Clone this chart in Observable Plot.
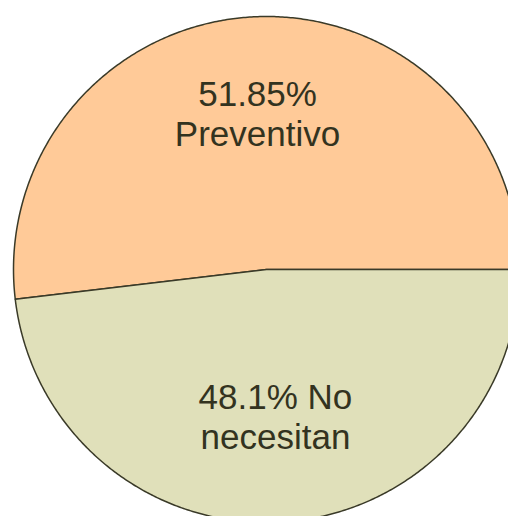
<!DOCTYPE html>
<html>
<head>
<meta charset="utf-8">
<script src="https://cdn.jsdelivr.net/npm/d3@7"></script>
<script src="https://cdn.jsdelivr.net/npm/@observablehq/plot@0.6"></script>
<style>
  html, body { margin: 0; padding: 0; background: #fff; overflow: hidden; }
</style>
</head>
<body>
<div id="chart"></div>
<script>
const categories = ["Preventivo", "No necesitan"];
const values = [51.85, 48.1];
const labels = ["51.85%\nPreventivo", "48.1% No\nnecesitan"];
const colors = ["#FFCA98", "#E0E0BA"];

const total = d3.sum(values);
// slices start at 3 o'clock and go counterclockwise
let acc = 0;
const slices = categories.map((c, i) => {
  const a0 = acc / total * 2 * Math.PI;
  acc += values[i];
  const a1 = acc / total * 2 * Math.PI;
  return {category: c, value: values[i], label: labels[i], a0, a1, mid: (a0 + a1) / 2};
});

const pts = [];
slices.forEach(s => {
  pts.push({category: s.category, x: 0, y: 0});
  const n = 400;
  for (let k = 0; k <= n; k++) {
    const a = s.a0 + (s.a1 - s.a0) * k / n;
    pts.push({category: s.category, x: Math.cos(a), y: Math.sin(a)});
  }
  pts.push({category: s.category, x: 0, y: 0});
});

const labelR = 0.6;
const labelPts = slices.map(s => ({label: s.label, x: labelR * Math.cos(s.mid), y: labelR * Math.sin(s.mid)}));

const chart = Plot.plot({
  width: 508,
  height: 516,
  margin: 0,
  x: {domain: [-1, 1], range: [13, 519], axis: null},
  y: {domain: [-1, 1], range: [522, 16], axis: null},
  color: {domain: categories, range: colors},
  marks: [
    Plot.line(pts, {x: "x", y: "y", z: "category", fill: "category", stroke: "#3a3a28", strokeWidth: 1.5, strokeLinejoin: "round"}),
    Plot.text(labelPts, {x: "x", y: "y", text: "label", dy: -5, fontSize: 35, lineHeight: 1.14, fill: "#33331f", fontFamily: "Liberation Sans, Arial, sans-serif"})
  ],
  style: {fontFamily: "Liberation Sans, Arial, sans-serif", background: "#fff"}
});
document.getElementById("chart").appendChild(chart);
</script>
</body>
</html>
